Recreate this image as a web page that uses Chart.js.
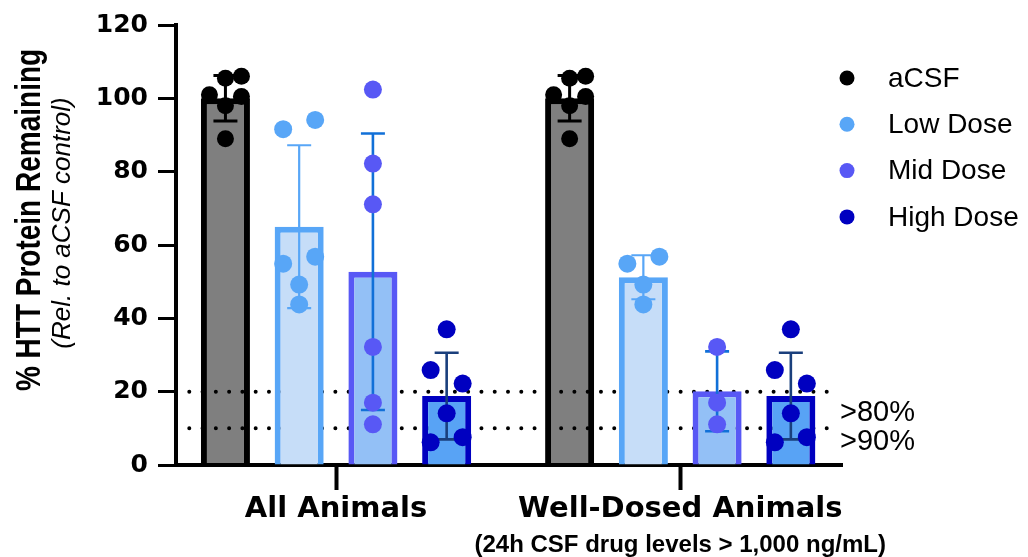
<!DOCTYPE html>
<html>
<head>
<meta charset="utf-8">
<title>HTT protein remaining</title>
<script src="https://cdn.jsdelivr.net/npm/chart.js@4.4.1/dist/chart.umd.min.js"></script>
<style>
  html, body { margin: 0; padding: 0; background: #ffffff; }
  #wrap { width: 1028px; height: 557px; }
</style>
</head>
<body>
<div id="wrap"><canvas id="chart" width="1028" height="557"></canvas></div>
<script>
// ---- data ----
const groups = ['All Animals', 'Well-Dosed Animals'];
const groupNote = '(24h CSF drug levels > 1,000 ng/mL)';
const seriesNames = ['aCSF', 'Low Dose', 'Mid Dose', 'High Dose'];
const yTicks = [0, 20, 40, 60, 80, 100, 120];
const yTitle = '% HTT Protein Remaining';
const ySubtitle = '(Rel. to aCSF control)';

// group means (bar heights): [All Animals, Well-Dosed Animals]
const acsfMean = [100, 100];
const lowMean = [65.0, 51.2];
const midMean = [52.7, 20.1];
const highMean = [18.8, 18.8];

// standard deviations
const acsfSD = [6.2, 6.2];
const lowSD = [22.2, 6.0];
const midSD = [37.7, 10.9];
const highSD = [11.8, 11.8];

// individual animals
const acsfAll = [105.5, 106, 101, 100.5, 98, 89];
const acsfWell = [105.5, 106, 101, 100.5, 98, 89];
const lowAll = [94.1, 91.6, 56.8, 54.9, 49.2, 43.8];
const lowWell = [56.8, 54.9, 49.2, 43.8];
const midAll = [102.4, 82.2, 71.1, 32.2, 17.0, 11.1];
const midWell = [32.2, 17.0, 11.1];
const highAll = [37.0, 25.9, 22.2, 14.1, 7.6, 6.2];
const highWell = [37.0, 25.9, 22.2, 14.1, 7.6, 6.2];

// scatter spread columns for overlapping animals (-1 left, 0 centre, +1 right)
const acsfJitter = [0, 1, -1, 1, 0, 0];
const lowAllJitter = [1, -1, 1, -1, 0, 0];
const lowWellJitter = [1, -1, 0, 0];
const midAllJitter = [0, 0, 0, 0, 0, 0];
const midWellJitter = [0, 0, 0];
const highJitter = [0, -1, 1, 0, 1, -1];

// knockdown reference levels
const thresholdValues = [20, 10];
const thresholdLabels = ['>80%', '>90%'];

// ---- styling ----
const pointColors = ['#000000', '#58a6f7', '#5858f5', '#0000c0'];
const barFills = ['rgba(0,0,0,0.5)', '#c6ddf8', '#93c0f6', '#58a3f5'];
const barBorders = ['#000000', '#58a6f7', '#5858f5', '#0000c0'];
const errorColors = ['#000000', '#58a6f7', '#1170d8', '#1a3f7c'];
const errorWidths = [3, 2.2, 2.6, 2.6];
const pointRadii = [8.5, 9, 9, 9];
const CAT_PCT = 0.857;
const BAR_PCT = 0.665;
const JITTER_STEP = 0.0465;
const BOLD_WIDE = "'DejaVu Sans'";
const SANS = "'Liberation Sans', Arial, sans-serif";

const means = [acsfMean, lowMean, midMean, highMean];
const sds = [acsfSD, lowSD, midSD, highSD];
const animals = [[acsfAll, acsfWell], [lowAll, lowWell], [midAll, midWell], [highAll, highWell]];
const jitters = [[acsfJitter, acsfJitter], [lowAllJitter, lowWellJitter], [midAllJitter, midWellJitter], [highJitter, highJitter]];

const slot = CAT_PCT / seriesNames.length;
const centreShift = (seriesNames.length - 1) / 2;

const barSets = seriesNames.map((name, s) => ({
  type: 'bar',
  label: name,
  order: 2,
  data: means[s].map((m, g) => ({ x: g, y: m })),
  errorSD: sds[s],
  errorColor: errorColors[s],
  errorWidth: errorWidths[s],
  backgroundColor: barFills[s],
  borderColor: barBorders[s],
  borderWidth: 6,
  categoryPercentage: CAT_PCT,
  barPercentage: BAR_PCT
}));

const pointSets = seriesNames.map((name, s) => {
  const pts = [];
  animals[s].forEach((vals, g) => {
    vals.forEach((v, i) => {
      pts.push({ x: g + (s - centreShift) * slot + jitters[s][g][i] * JITTER_STEP, y: v });
    });
  });
  return {
    type: 'scatter',
    label: name + ' animals',
    order: 1,
    data: pts,
    showLine: false,
    pointRadius: pointRadii[s],
    pointHoverRadius: pointRadii[s],
    pointBackgroundColor: pointColors[s],
    pointBorderWidth: 0
  };
});

// dotted reference lines under the bars
const referenceLines = {
  id: 'referenceLines',
  beforeDatasetsDraw(chart) {
    const { ctx, chartArea: ca, scales: { y } } = chart;
    ctx.save();
    ctx.strokeStyle = '#000';
    ctx.lineWidth = 4;
    ctx.lineCap = 'round';
    ctx.setLineDash([0, 13.28]);
    thresholdValues.forEach(v => {
      const py = y.getPixelForValue(v);
      ctx.beginPath();
      ctx.moveTo(ca.left, py);
      ctx.lineTo(ca.right - 14, py);
      ctx.stroke();
    });
    ctx.restore();
  }
};

// mean ± SD whiskers on each bar
const errorBars = {
  id: 'errorBars',
  afterDatasetDraw(chart, args) {
    const ds = chart.data.datasets[args.index];
    if (!ds.errorSD) return;
    const { ctx, scales: { y } } = chart;
    const cap = 12;
    ctx.save();
    ctx.strokeStyle = ds.errorColor;
    ctx.lineWidth = ds.errorWidth;
    ctx.setLineDash([]);
    args.meta.data.forEach((bar, i) => {
      const m = ds.data[i].y;
      const sd = ds.errorSD[i];
      const top = y.getPixelForValue(m + sd);
      const bot = y.getPixelForValue(m - sd);
      ctx.beginPath();
      ctx.moveTo(bar.x, top); ctx.lineTo(bar.x, bot);
      ctx.moveTo(bar.x - cap, top); ctx.lineTo(bar.x + cap, top);
      ctx.moveTo(bar.x - cap, bot); ctx.lineTo(bar.x + cap, bot);
      ctx.stroke();
    });
    ctx.restore();
  }
};

// axis titles, group note, reference labels and legend
const annotations = {
  id: 'annotations',
  afterDraw(chart) {
    const { ctx, chartArea: ca, scales: { x, y } } = chart;
    ctx.save();
    ctx.fillStyle = '#000';

    // y title (two lines, rotated)
    ctx.save();
    ctx.translate(ca.left - 146, ca.top + 195);
    ctx.rotate(-Math.PI / 2);
    ctx.scale(1, 1.28);
    ctx.font = 'bold 28px ' + SANS;
    ctx.textAlign = 'center';
    ctx.textBaseline = 'middle';
    ctx.fillText(yTitle, 0, 0);
    ctx.restore();

    ctx.save();
    ctx.translate(ca.left - 113, ca.top + 198);
    ctx.rotate(-Math.PI / 2);
    ctx.font = 'italic 26px ' + SANS;
    ctx.textAlign = 'center';
    ctx.textBaseline = 'middle';
    ctx.fillText(ySubtitle, 0, 0);
    ctx.restore();

    // note under the second group
    ctx.font = 'bold 24px ' + SANS;
    ctx.textAlign = 'center';
    ctx.textBaseline = 'alphabetic';
    ctx.fillText(groupNote, x.getPixelForValue(1), ca.bottom + 87);

    // reference level labels
    ctx.font = '29px ' + SANS;
    ctx.textAlign = 'left';
    const drops = [29, 22];
    thresholdValues.forEach((v, i) => {
      ctx.fillText(thresholdLabels[i], ca.right - 2, y.getPixelForValue(v) + drops[i]);
    });

    // legend
    ctx.font = '28px ' + SANS;
    ctx.textBaseline = 'middle';
    seriesNames.forEach((name, s) => {
      const cy = ca.top + 53 + s * 46.3;
      ctx.fillStyle = pointColors[s];
      ctx.beginPath();
      ctx.arc(ca.right + 5, cy, 7.5, 0, Math.PI * 2);
      ctx.fill();
      ctx.fillStyle = '#000';
      ctx.fillText(name, ca.right + 46, cy + 1);
    });
    ctx.restore();
  }
};

new Chart(document.getElementById('chart'), {
  type: 'bar',
  data: { datasets: [...barSets, ...pointSets] },
  options: {
    responsive: false,
    devicePixelRatio: 1,
    animation: false,
    layout: { padding: { top: 21, right: 186, bottom: 0, left: 0 } },
    plugins: { legend: { display: false }, tooltip: { enabled: false } },
    scales: {
      x: {
        type: 'linear',
        position: 'bottom',
        min: -0.465,
        max: 1.47,
        offset: false,
        afterBuildTicks: scale => { scale.ticks = groups.map((g, i) => ({ value: i })); },
        afterFit: scale => { scale.height = 92; },
        grid: { display: true, offset: false, drawOnChartArea: false, drawTicks: true, tickLength: 25, tickWidth: 4, tickColor: '#000', color: '#000' },
        border: { display: true, color: '#000', width: 4 },
        ticks: {
          autoSkip: false, maxRotation: 0, minRotation: 0, padding: 2,
          color: '#000',
          font: { family: BOLD_WIDE, size: 29, weight: 'bold' },
          callback: (value, index) => groups[index]
        }
      },
      y: {
        type: 'linear',
        min: 0,
        max: 120,
        afterBuildTicks: scale => { scale.ticks = yTicks.map(v => ({ value: v })); },
        afterFit: scale => { scale.width = 176; },
        grid: { display: true, drawOnChartArea: false, drawTicks: true, tickLength: 18, tickWidth: 3, tickColor: '#000', color: '#000' },
        border: { display: true, color: '#000', width: 4 },
        ticks: {
          padding: 10,
          color: '#000',
          font: { family: BOLD_WIDE, size: 25, weight: 'bold' },
          callback: value => String(value)
        }
      }
    }
  },
  plugins: [referenceLines, errorBars, annotations]
});
</script>
</body>
</html>
